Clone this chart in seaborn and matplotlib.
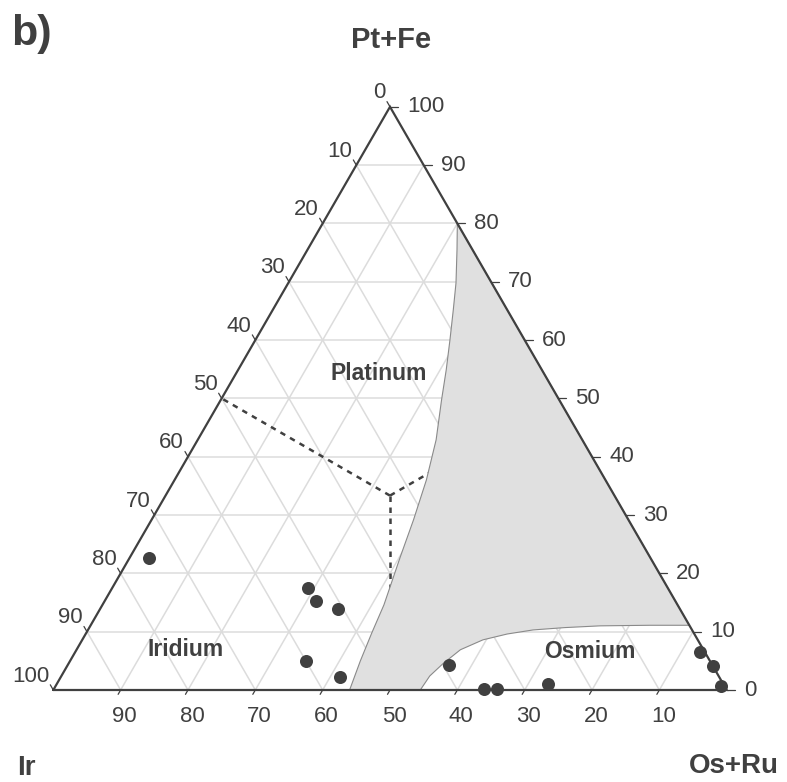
import numpy as np
import pandas as pd
import matplotlib
matplotlib.use("Agg")
import matplotlib.pyplot as plt
import seaborn as sns

# ---- data (percent) ----
pt_fe = [22.6, 17.5, 15.3, 13.9, 5.0, 2.3, 4.3, 0.1, 0.1, 1.0, 6.6, 4.2, 0.7]
os_ru = [2.9, 29.1, 31.3, 35.3, 35.1, 41.4, 56.6, 63.9, 65.8, 72.9, 92.7, 95.8, 98.8]

# grey (two-phase) field boundary, Pt+Fe / Os+Ru percent
field_pt = [80, 75.5, 69.8, 65.2, 60.0, 54.9, 49.7, 42.9, 36.0, 29.2, 22.9, 14.6,
            9.8, 5.0, 0.0, 0.0, 2.4, 4.5, 6.9, 8.6, 9.6, 10.3, 10.7, 11.0, 11.1, 11.1]
field_os = [20, 22.2, 24.9, 26.8, 28.9, 30.9, 32.8, 35.4, 37.4, 38.9, 40.1, 41.8,
            42.4, 43.1, 44.0, 54.5, 54.7, 55.6, 57.0, 59.5, 62.6, 66.1, 70.6, 75.7, 83.1, 88.9]

left_ticks = [0, 10, 20, 30, 40, 50, 60, 70, 80, 90, 100]
right_ticks = [100, 90, 80, 70, 60, 50, 40, 30, 20, 10, 0]
bottom_ticks = [90, 80, 70, 60, 50, 40, 30, 20, 10]

SQ = np.sqrt(3) / 2


def tern(a, b):
    a = np.asarray(a, float) / 100.0
    b = np.asarray(b, float) / 100.0
    return b + a / 2, a * SQ


sns.set_style("white")
plt.rcParams["font.family"] = ["Liberation Sans", "DejaVu Sans"]

W, H = 787, 782
fig = plt.figure(figsize=(W / 100, H / 100), dpi=100)
ax = fig.add_axes([0, 0, 1, 1])
S = 673.4
x0, y0 = 53.3, 690.0
ax.set_xlim(-x0 / S, (W - x0) / S)
ax.set_ylim((y0 - H) / S, y0 / S)
ax.set_aspect("equal")
ax.axis("off")

dark = "#404040"
gridc = "#dcdcdc"

# grid
for k in range(1, 10):
    f = k * 10
    xa, ya = tern([f, f], [0, 100 - f])
    ax.plot(xa, ya, color=gridc, lw=1.1, zorder=1)
    xb, yb = tern([0, 100 - f], [f, f])
    ax.plot(xb, yb, color=gridc, lw=1.1, zorder=1)
    xc, yc = tern([0, 100 - f], [100 - f, 0])
    ax.plot(xc, yc, color=gridc, lw=1.1, zorder=1)

# dashed field boundaries
c = 100 / 3
for (a2, b2) in [(50, 0), (50, 50), (0, 50)]:
    xd, yd = tern([c, a2], [c, b2])
    ax.plot(xd, yd, color=dark, lw=1.8, ls=(0, (2.2, 2.2)), zorder=2)

# grey field
fx, fy = tern(field_pt, field_os)
ax.fill(fx, fy, facecolor="#e0e0e0", edgecolor="#8a8a8a", lw=0.8, zorder=3,
        joinstyle="round")

# triangle
tx, ty = tern([0, 0, 100, 0], [0, 100, 0, 0])
ax.plot(tx, ty, color=dark, lw=1.6, zorder=5, solid_joinstyle="miter")

# ticks and labels
px = 1 / S
fs = 16
for v in left_ticks:
    xx, yy = tern(100 - v, 0)
    ax.plot([xx, xx - 0.5 * 6 * px], [yy, yy + SQ * 6 * px], color=dark, lw=0.9, zorder=5)
    ax.annotate(str(v), (xx, yy), xytext=(-4, 14), textcoords="offset pixels",
                ha="right", va="center", fontsize=fs, color=dark)
for v in right_ticks:
    xx, yy = tern(v, 100 - v)
    ax.plot([xx, xx + 8 * px], [yy, yy], color=dark, lw=0.9, zorder=5)
    ax.annotate(str(v), (xx, yy), xytext=(17, 0), textcoords="offset pixels",
                ha="left", va="center", fontsize=fs, color=dark)
for v in bottom_ticks:
    xx, yy = tern(0, 100 - v)
    ax.plot([xx, xx - 0.5 * 5 * px], [yy, yy - SQ * 5 * px], color=dark, lw=0.9, zorder=5)
    ax.annotate(str(v), (xx, yy), xytext=(4, -26), textcoords="offset pixels",
                ha="center", va="center", fontsize=fs, color=dark)

# points
px_, py_ = tern(pt_fe, os_ru)
df = pd.DataFrame({"x": px_, "y": py_})
sns.scatterplot(data=df, x="x", y="y", ax=ax, s=88, color=dark,
                edgecolor=dark, linewidth=0, zorder=6, legend=False)
ax.axis("off")

# texts
def ftext(x, y, s, **kw):
    fig.text(x / W, 1 - y / H, s, **kw)

ftext(11, 34, "b)", fontsize=31, fontweight="bold", color=dark, ha="left", va="center")
ftext(391, 40, "Pt+Fe", fontsize=21, fontweight="bold", color=dark, ha="center", va="center")
ftext(17, 768, "Ir", fontsize=20, fontweight="bold", color=dark, ha="left", va="center")
ftext(779, 766, "Os+Ru", fontsize=20, fontweight="bold", color=dark, ha="right", va="center")
ftext(379, 374, "Platinum", fontsize=16.5, fontweight="bold", color=dark, ha="center", va="center")
ftext(186, 650, "Iridium", fontsize=16.5, fontweight="bold", color=dark, ha="center", va="center")
ftext(590, 652, "Osmium", fontsize=16.5, fontweight="bold", color=dark, ha="center", va="center")

fig.savefig("out.png", dpi=100)
